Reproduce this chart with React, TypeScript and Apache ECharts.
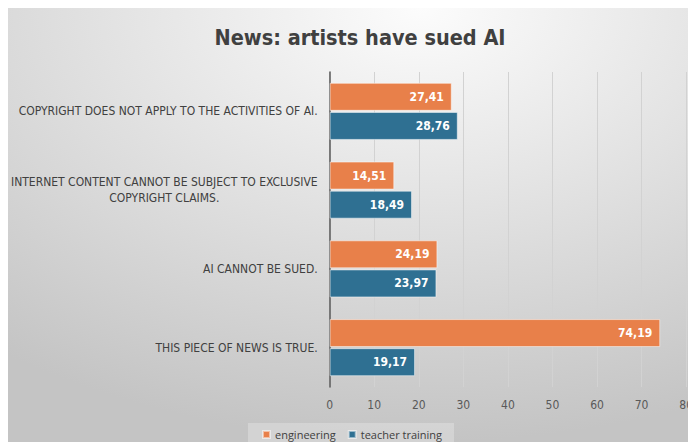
import React, { useEffect, useRef } from "react";
import * as echarts from "echarts";

const categories = [
  "THIS PIECE OF NEWS IS TRUE.",
  "AI CANNOT BE SUED.",
  "INTERNET CONTENT CANNOT BE SUBJECT TO EXCLUSIVE\nCOPYRIGHT CLAIMS.",
  "COPYRIGHT DOES NOT APPLY TO THE ACTIVITIES OF AI.",
];
const engineering = [74.19, 24.19, 14.51, 27.41];
const teacherTraining = [19.17, 23.97, 18.49, 28.76];
const seriesNames = ["engineering", "teacher training"];
const xTicks = { min: 0, max: 80, interval: 10 };

const NARROW = "'Liberation Sans Narrow', 'DejaVu Sans Condensed', 'Arial Narrow', sans-serif";

export default function App() {
  const ref = useRef<HTMLDivElement>(null);
  useEffect(() => {
    if (!ref.current) return;
    const chart = echarts.init(ref.current, undefined, { renderer: "svg" });
    const fmt = (p: any) => Number(p.value).toFixed(2).replace(".", ",");
    const label = {
      show: true,
      position: "insideRight" as const,
      distance: 8,
      color: "#ffffff",
      fontFamily: NARROW,
      fontWeight: "bold" as const,
      fontSize: 12,
      formatter: fmt,
    };
    chart.setOption({
      animation: false,
      backgroundColor: {
        type: "radial",
        x: 0.6,
        y: 0,
        r: 1.0,
        colorStops: [
          { offset: 0, color: "#fcfcfc" },
          { offset: 1, color: "#c4c4c4" },
        ],
      },
      title: {
        text: "News: artists have sued AI",
        left: 347,
        textAlign: "center",
        top: 13,
        textStyle: {
          fontFamily: NARROW,
          fontSize: 21.5,
          fontWeight: "bold",
          color: "#404040",
        },
      },
      legend: {
        data: seriesNames,
        left: "center",
        top: 415,
        itemWidth: 7,
        itemHeight: 7,
        itemGap: 12,
        icon: "rect",
        backgroundColor: "rgba(255,255,255,0.25)",
        padding: [6, 12, 6, 14],
        textStyle: {
          fontFamily: "'Open Sans', sans-serif",
          fontSize: 11,
          color: "#404040",
        },
      },
      grid: { left: 320, right: 6, top: 64, bottom: 55, containLabel: false },
      xAxis: {
        type: "value",
        min: xTicks.min,
        max: xTicks.max,
        interval: xTicks.interval,
        axisLine: { show: false },
        axisTick: { show: false },
        splitLine: { show: true, lineStyle: { color: "#d2d2d2", width: 1 } },
        axisLabel: {
          color: "#595959",
          fontFamily: NARROW,
          fontSize: 12,
          margin: 12,
        },
      },
      yAxis: {
        type: "category",
        data: categories,
        axisLine: { show: true, lineStyle: { color: "#595959", width: 1.5 } },
        axisTick: { show: false },
        axisLabel: {
          color: "#404040",
          fontFamily: NARROW,
          fontSize: 12,
          margin: 12,
          align: "right",
          lineHeight: 16,
          formatter: (v: string) =>
            v.split("\n").map((l) => `{c|${l}}`).join("\n"),
          rich: {
            c: {
              align: "center",
              color: "#404040",
              fontFamily: NARROW,
              fontSize: 12,
              lineHeight: 16,
            },
          },
        },
      },
      series: [
        {
          name: "engineering",
          type: "bar",
          data: engineering,
          barWidth: 28,
          barGap: "4%",
          itemStyle: { color: "#E8804A", borderColor: "rgba(255,255,255,0.5)", borderWidth: 1 },
          label,
        },
        {
          name: "teacher training",
          type: "bar",
          data: teacherTraining,
          barWidth: 28,
          barGap: "4%",
          itemStyle: { color: "#2F7092", borderColor: "rgba(255,255,255,0.5)", borderWidth: 1 },
          label,
        },
      ],
    });
    return () => chart.dispose();
  }, []);
  return <div ref={ref} style={{ width: 688, height: 434 }} />;
}
